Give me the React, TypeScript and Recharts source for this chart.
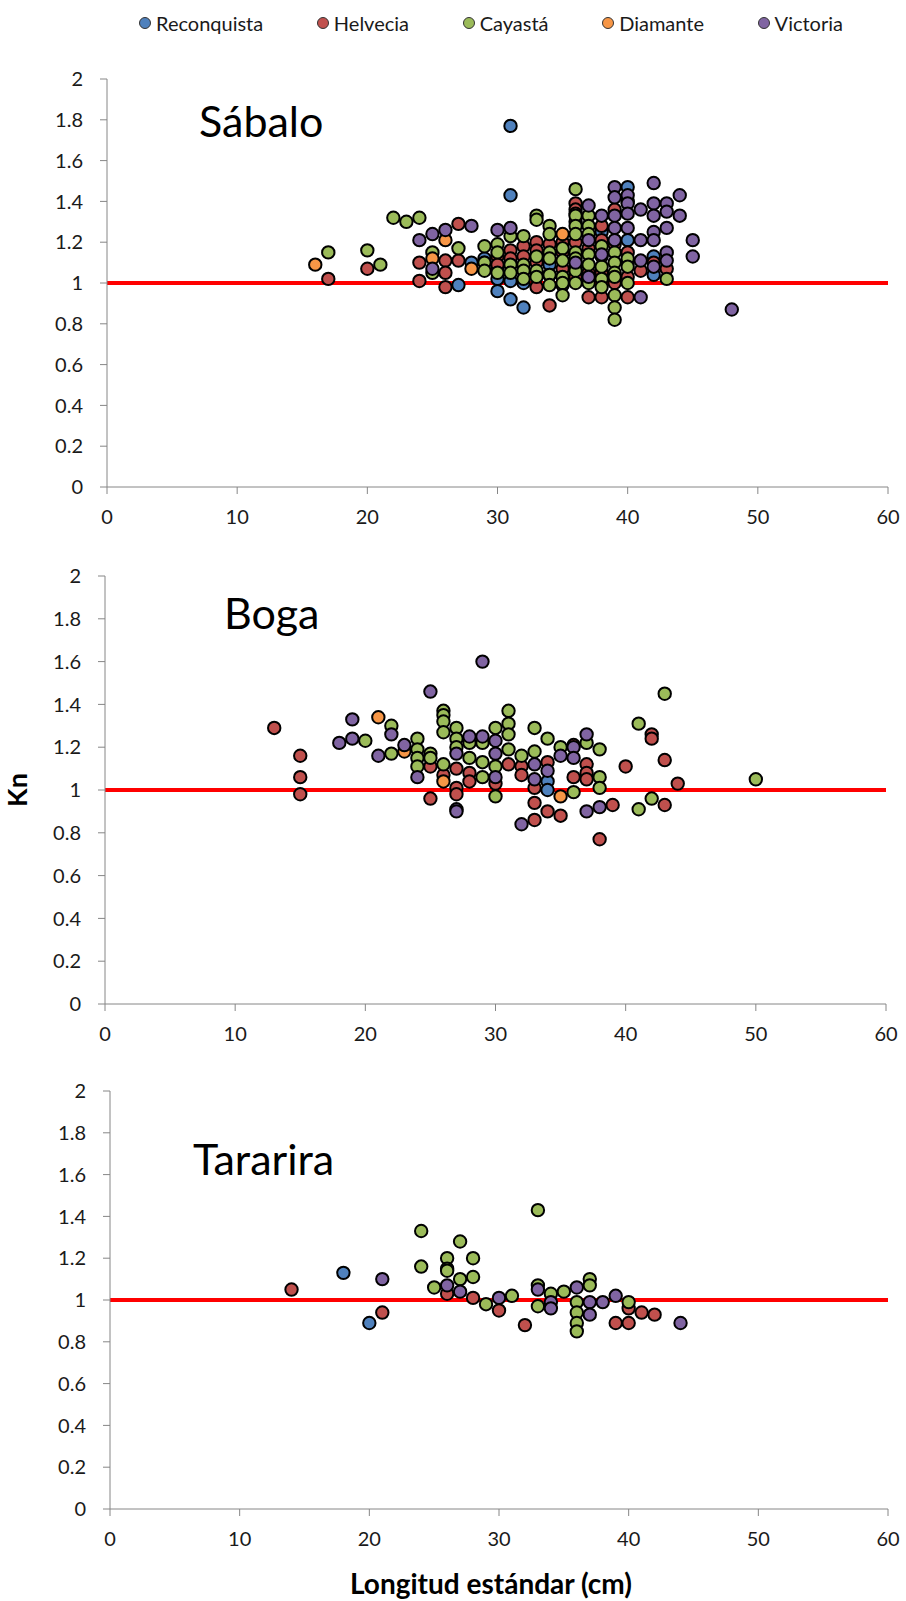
import React from 'react';
import { ScatterChart, Scatter, XAxis, YAxis, ReferenceLine } from 'recharts';

type Pt = [number, number];

const seriesNames = ['Reconquista', 'Helvecia', 'Cayastá', 'Diamante', 'Victoria'];
const seriesColors = ['#4F81BD', '#C0504D', '#9BBB59', '#F79646', '#8064A2'];
const xTicks = [0, 10, 20, 30, 40, 50, 60];
const yTicks = [0, 0.2, 0.4, 0.6, 0.8, 1, 1.2, 1.4, 1.6, 1.8, 2];

// Sábalo: [longitud estándar, Kn]
const sabaloReconquista: Pt[] = [
  [27, 0.99], [28, 1.10], [29, 1.12], [30, 1.08], [30, 1.02], [30, 0.96], [31, 1.77], [31, 1.43],
  [31, 1.01], [31, 0.92], [32, 1.0], [32, 0.88], [33, 1.05], [34, 1.09], [34, 1.04], [36, 1.06],
  [38, 1.25], [40, 1.47], [40, 1.40], [40, 1.21], [42, 1.13], [42, 1.04],
];
const sabaloHelvecia: Pt[] = [
  [17, 1.02], [20, 1.07], [24, 1.10], [24, 1.01], [26, 1.11], [26, 1.05], [26, 0.98], [27, 1.29],
  [27, 1.11], [29, 1.10], [30, 1.13], [30, 1.09], [31, 1.16], [31, 1.12], [32, 1.18], [32, 1.13],
  [33, 1.20], [33, 1.16], [33, 1.10], [33, 0.98], [34, 1.19], [34, 0.89], [35, 1.20], [35, 1.15],
  [35, 1.07], [35, 0.99], [36, 1.39], [36, 1.36], [36, 1.34], [36, 1.30], [36, 1.20], [36, 1.08],
  [36, 1.03], [37, 1.17], [37, 1.05], [37, 0.93], [38, 1.28], [38, 1.21], [38, 1.05], [38, 0.93],
  [39, 1.36], [39, 1.19], [39, 1.00], [40, 1.15], [40, 1.10], [40, 1.03], [40, 0.93], [41, 1.06],
  [42, 1.10], [43, 1.07],
];
const sabaloCayasta: Pt[] = [
  [17, 1.15], [20, 1.16], [21, 1.09], [22, 1.32], [23, 1.30], [24, 1.32], [25, 1.15], [25, 1.05],
  [27, 1.17], [29, 1.18], [29, 1.10], [29, 1.06], [30, 1.19], [30, 1.15], [30, 1.05], [31, 1.23],
  [31, 1.09], [31, 1.05], [32, 1.23], [32, 1.09], [32, 1.06], [32, 1.02], [33, 1.33], [33, 1.31],
  [33, 1.13], [33, 1.06], [33, 1.03], [34, 1.28], [34, 1.24], [34, 1.15], [34, 1.12], [34, 1.04],
  [34, 0.99], [35, 1.17], [35, 1.11], [35, 1.03], [35, 1.00], [35, 0.94], [36, 1.46], [36, 1.33],
  [36, 1.28], [36, 1.24], [36, 1.15], [36, 1.12], [36, 1.06], [36, 1.00], [37, 1.33], [37, 1.28],
  [37, 1.24], [37, 1.14], [37, 1.09], [37, 1.00], [38, 1.18], [38, 1.13], [38, 1.08], [38, 1.02],
  [38, 0.98], [39, 1.15], [39, 1.10], [39, 1.05], [39, 1.03], [39, 0.94], [39, 0.88], [39, 0.82],
  [40, 1.12], [40, 1.08], [40, 1.00], [43, 1.02],
];
const sabaloDiamante: Pt[] = [[16, 1.09], [25, 1.12], [26, 1.21], [28, 1.07], [35, 1.24]];
const sabaloVictoria: Pt[] = [
  [24, 1.21], [25, 1.24], [25, 1.07], [26, 1.26], [28, 1.28], [30, 1.26], [31, 1.27], [36, 1.10],
  [37, 1.38], [37, 1.21], [37, 1.03], [38, 1.33], [38, 1.14], [39, 1.47], [39, 1.42], [39, 1.33],
  [39, 1.27], [39, 1.21], [40, 1.43], [40, 1.39], [40, 1.34], [40, 1.27], [41, 1.36], [41, 1.21],
  [41, 1.11], [41, 0.93], [42, 1.49], [42, 1.39], [42, 1.33], [42, 1.25], [42, 1.21], [42, 1.08],
  [43, 1.39], [43, 1.35], [43, 1.27], [43, 1.15], [43, 1.11], [44, 1.43], [44, 1.33], [45, 1.21],
  [45, 1.13], [48, 0.87],
];

// Boga
const bogaReconquista: Pt[] = [[34, 1.04], [34, 1.0]];
const bogaHelvecia: Pt[] = [
  [13, 1.29], [15, 1.16], [15, 1.06], [15, 0.98], [25, 1.11], [25, 0.96], [26, 1.07], [27, 1.10],
  [27, 1.01], [27, 0.98], [28, 1.08], [28, 1.04], [30, 1.03], [31, 1.12], [32, 1.11], [32, 1.07],
  [33, 1.01], [33, 0.94], [33, 0.86], [34, 1.13], [34, 0.90], [35, 0.88], [36, 1.21], [36, 1.06],
  [37, 1.12], [37, 1.08], [37, 1.05], [38, 0.77], [39, 0.93], [40, 1.11], [42, 1.26], [42, 1.24],
  [43, 1.14], [43, 0.93], [44, 1.03],
];
const bogaCayasta: Pt[] = [
  [20, 1.23], [22, 1.30], [22, 1.17], [24, 1.24], [24, 1.19], [24, 1.15], [24, 1.11], [25, 1.17],
  [25, 1.15], [26, 1.37], [26, 1.35], [26, 1.32], [26, 1.27], [26, 1.12], [27, 1.29], [27, 1.24],
  [27, 1.20], [28, 1.22], [28, 1.15], [29, 1.22], [29, 1.13], [29, 1.06], [30, 1.29], [30, 1.11],
  [30, 0.97], [31, 1.37], [31, 1.31], [31, 1.26], [31, 1.19], [32, 1.16], [33, 1.29], [33, 1.18],
  [34, 1.24], [35, 1.20], [36, 0.99], [37, 1.22], [38, 1.19], [38, 1.06], [38, 1.01], [41, 1.31],
  [41, 0.91], [42, 0.96], [43, 1.45], [50, 1.05],
];
const bogaDiamante: Pt[] = [[21, 1.34], [23, 1.18], [26, 1.04], [35, 0.97]];
const bogaVictoria: Pt[] = [
  [18, 1.22], [19, 1.33], [19, 1.24], [21, 1.16], [22, 1.26], [23, 1.21], [24, 1.06], [25, 1.46],
  [27, 1.17], [27, 0.91], [27, 0.90], [28, 1.25], [29, 1.60], [29, 1.25], [30, 1.23], [30, 1.17],
  [30, 1.06], [32, 0.84], [33, 1.12], [33, 1.05], [34, 1.09], [35, 1.16], [36, 1.20], [36, 1.15],
  [37, 1.26], [37, 0.90], [38, 0.92],
];

// Tararira
const tarariraReconquista: Pt[] = [[18, 1.13], [20, 0.89]];
const tarariraHelvecia: Pt[] = [
  [14, 1.05], [21, 0.94], [26, 1.03], [28, 1.01], [30, 0.95], [32, 0.88], [39, 0.89], [40, 0.96],
  [40, 0.89], [41, 0.94], [42, 0.93],
];
const tarariraCayasta: Pt[] = [
  [24, 1.33], [24, 1.16], [25, 1.06], [26, 1.20], [26, 1.15], [26, 1.14], [27, 1.28], [27, 1.10],
  [28, 1.20], [28, 1.11], [29, 0.98], [31, 1.02], [33, 1.43], [33, 1.07], [33, 0.97], [34, 1.03],
  [35, 1.04], [36, 0.99], [36, 0.94], [36, 0.89], [36, 0.85], [37, 1.10], [37, 1.07], [40, 0.99],
];
const tarariraDiamante: Pt[] = [];
const tarariraVictoria: Pt[] = [
  [21, 1.10], [26, 1.07], [27, 1.04], [30, 1.01], [33, 1.05], [34, 0.99], [34, 0.96], [36, 1.06],
  [37, 0.99], [37, 0.93], [38, 0.99], [39, 1.02], [44, 0.89],
];

const panels = [
  {
    title: 'Sábalo', titleX: 199, titleY: 137,
    series: [sabaloReconquista, sabaloHelvecia, sabaloCayasta, sabaloDiamante, sabaloVictoria],
    top: 50, plotTop: 79, plotBottom: 487, plotLeft: 107, plotRight: 888,
  },
  {
    title: 'Boga', titleX: 224, titleY: 629,
    series: [bogaReconquista, bogaHelvecia, bogaCayasta, bogaDiamante, bogaVictoria],
    top: 540, plotTop: 576, plotBottom: 1004, plotLeft: 105, plotRight: 886,
  },
  {
    title: 'Tararira', titleX: 193, titleY: 1175,
    series: [tarariraReconquista, tarariraHelvecia, tarariraCayasta, tarariraDiamante, tarariraVictoria],
    top: 1060, plotTop: 1091, plotBottom: 1509, plotLeft: 110, plotRight: 888,
  },
];

const FONT = 'Lato, "Open Sans", sans-serif';
const AXIS = '#868686';
const tickStyle = { fill: '#1a1a1a', fontSize: 20, fontFamily: FONT };

const dot = (color: string) => (props: any) =>
  props.cx == null ? <g /> : (
    <circle cx={props.cx} cy={props.cy} r={6.2} fill={color} stroke="#000" strokeWidth={2} />
  );

const Panel = ({ p }: { p: (typeof panels)[number] }) => {
  const height = p.plotBottom + 45 - p.top;
  return (
    <div style={{ position: 'absolute', left: 0, top: p.top }}>
      <ScatterChart
        width={906}
        height={height}
        margin={{ top: p.plotTop - p.top, right: 906 - p.plotRight, bottom: 5, left: 0 }}
      >
        <XAxis
          type="number"
          dataKey="x"
          domain={[0, 60]}
          ticks={xTicks}
          height={40}
          tick={tickStyle}
          tickSize={7}
          tickMargin={16}
          axisLine={{ stroke: AXIS }}
          tickLine={{ stroke: AXIS }}
        />
        <YAxis
          type="number"
          dataKey="y"
          domain={[0, 2]}
          ticks={yTicks}
          width={p.plotLeft}
          tick={tickStyle}
          tickSize={7}
          tickMargin={17}
          axisLine={{ stroke: AXIS }}
          tickLine={{ stroke: AXIS }}
        />
        <ReferenceLine y={1} stroke="#FF0000" strokeWidth={4} />
        {p.series.map((s, i) => (
          <Scatter
            key={seriesNames[i]}
            name={seriesNames[i]}
            data={s.map(([x, y]) => ({ x, y }))}
            fill={seriesColors[i]}
            shape={dot(seriesColors[i])}
            isAnimationActive={false}
          />
        ))}
      </ScatterChart>
    </div>
  );
};

export default function App() {
  return (
    <div
      style={{
        position: 'absolute', left: 0, top: 0, width: 906, height: 1601,
        background: '#fff', fontFamily: FONT, overflow: 'hidden',
      }}
    >
      <div
        style={{
          position: 'absolute', left: 139, top: 10, width: 704, height: 26,
          display: 'flex', justifyContent: 'space-between', alignItems: 'center',
          fontSize: 20, color: '#1a1a1a',
        }}
      >
        {seriesNames.map((n, i) => (
          <div key={n} style={{ display: 'flex', alignItems: 'center' }}>
            <span
              style={{
                display: 'inline-block', width: 10, height: 10, borderRadius: '50%',
                background: seriesColors[i], border: '1px solid #333', marginRight: 5,
              }}
            />
            <span>{n}</span>
          </div>
        ))}
      </div>
      {panels.map((p) => (
        <Panel key={p.title} p={p} />
      ))}
      <svg
        width={906}
        height={1601}
        style={{ position: 'absolute', left: 0, top: 0, pointerEvents: 'none' }}
      >
        {panels.map((p) => (
          <text key={p.title} x={p.titleX} y={p.titleY} fontSize={43} fontFamily={FONT} fill="#000">
            {p.title}
          </text>
        ))}
        <text
          x={27}
          y={790}
          transform="rotate(-90 27 790)"
          textAnchor="middle"
          fontSize={27}
          fontWeight="bold"
          fontFamily={FONT}
          fill="#000"
        >
          Kn
        </text>
        <text x={491} y={1594} textAnchor="middle" fontSize={28} fontWeight="bold" fontFamily={FONT} fill="#000">
          Longitud estándar (cm)
        </text>
      </svg>
    </div>
  );
}
